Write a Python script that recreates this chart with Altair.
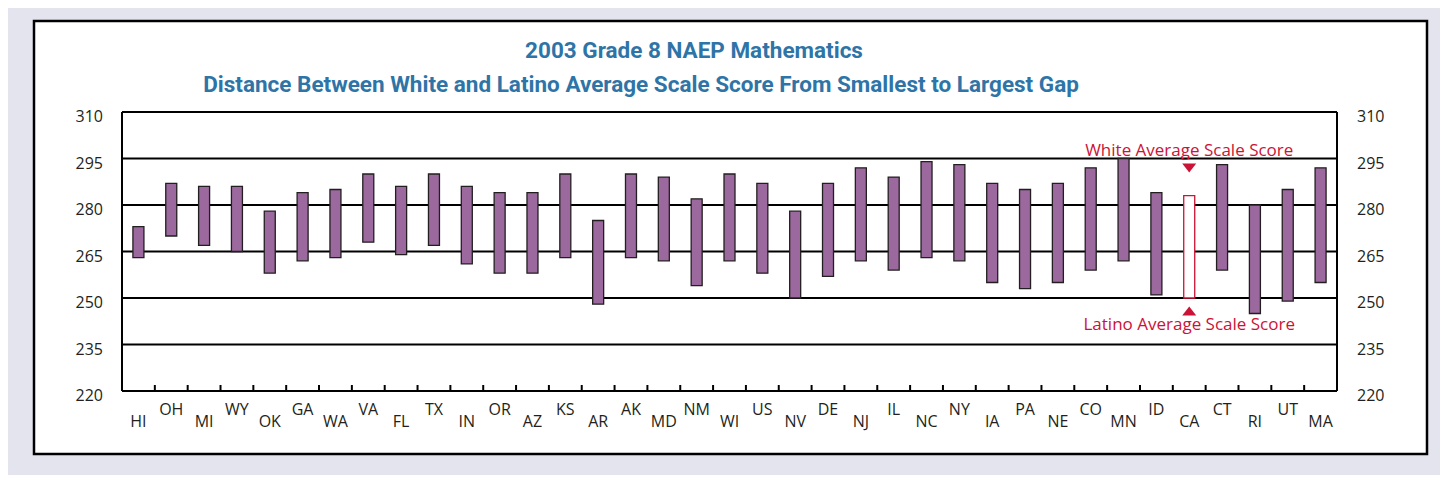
import altair as alt
import pandas as pd

# ---- data ----
states = ["HI", "OH", "MI", "WY", "OK", "GA", "WA", "VA", "FL", "TX", "IN", "OR", "AZ",
          "KS", "AR", "AK", "MD", "NM", "WI", "US", "NV", "DE", "NJ", "IL", "NC", "NY",
          "IA", "PA", "NE", "CO", "MN", "ID", "CA", "CT", "RI", "UT", "MA"]
white = [273, 287, 286, 286, 278, 284, 285, 290, 286, 290, 286, 284, 284,
         290, 275, 290, 289, 282, 290, 287, 278, 287, 292, 289, 294, 293,
         287, 285, 287, 292, 295, 284, 283, 293, 280, 285, 292]
latino = [263, 270, 267, 265, 258, 262, 263, 268, 264, 267, 261, 258, 258,
          263, 248, 263, 262, 254, 262, 258, 250, 257, 262, 259, 263, 262,
          255, 253, 255, 259, 262, 251, 250, 259, 245, 249, 255]
grid_values = [220, 235, 250, 265, 280, 295, 310]
highlight_state = "CA"

title_line1 = "2003 Grade 8 NAEP Mathematics"
title_line2 = "Distance Between White and Latino Average Scale Score From Smallest to Largest Gap"
white_note = "White Average Scale Score"
latino_note = "Latino Average Scale Score"

# ---- styling ----
W, H = 1215, 279
PURPLE = "#9b699e"
RED = "#cc1236"
BLUE = "#2e74a7"
INK = "#231f20"
FONT = "Open Sans"
TITLE_FONT = "Roboto"

df = pd.DataFrame({"state": states, "white": white, "latino": latino})
grid_df = pd.DataFrame({"v": grid_values})
one = alt.Data(values=[{"a": 1}])

xs = alt.Scale(domain=states, paddingInner=0, paddingOuter=0)
ys = alt.Scale(domain=[220, 310], nice=False, zero=False)

frame = alt.Chart(one).mark_rect(fill="white", stroke="black", strokeWidth=2.5).encode(
    x=alt.value(-88), x2=alt.value(1305), y=alt.value(-91), y2=alt.value(342))

grid = alt.Chart(grid_df).mark_rule(color="black", strokeWidth=2).encode(
    y=alt.Y("v:Q", scale=ys, axis=None),
    x=alt.value(0), x2=alt.value(W))

ylab_left = alt.Chart(grid_df).mark_text(align="right", baseline="alphabetic", dy=10,
                                         font=FONT, fontSize=16, color=INK).encode(
    y=alt.Y("v:Q", scale=ys, axis=None), x=alt.value(-19), text="v:Q")
ylab_right = alt.Chart(grid_df).mark_text(align="left", baseline="alphabetic", dy=10,
                                          font=FONT, fontSize=16, color=INK).encode(
    y=alt.Y("v:Q", scale=ys, axis=None), x=alt.value(W + 20), text="v:Q")

left_border = alt.Chart(one).mark_rule(color="black", strokeWidth=2).encode(
    x=alt.value(0), y=alt.value(0), y2=alt.value(H))
right_border = alt.Chart(one).mark_rule(color="black", strokeWidth=2).encode(
    x=alt.value(W), y=alt.value(0), y2=alt.value(H))

ticks = alt.Chart(df).transform_window(rn="row_number()").transform_filter(
    "datum.rn > 1").mark_rule(color="black", strokeWidth=2).encode(
    x=alt.X("state:N", scale=xs, axis=None, bandPosition=0),
    y=alt.value(H - 6), y2=alt.value(H))

is_hl = f"datum.state == '{highlight_state}'"
bars = alt.Chart(df).mark_bar(size=11, strokeWidth=1.3).encode(
    x=alt.X("state:N", scale=xs, axis=None),
    y=alt.Y("white:Q", scale=ys, axis=None),
    y2="latino:Q",
    fill=alt.condition(is_hl, alt.value("white"), alt.value(PURPLE)),
    stroke=alt.condition(is_hl, alt.value(RED), alt.value(INK)),
)

labels_low = alt.Chart(df).transform_window(rn="row_number()").transform_filter(
    "datum.rn % 2 == 1").mark_text(baseline="alphabetic", font=FONT, fontSize=16, color=INK).encode(
    x=alt.X("state:N", scale=xs, axis=None), y=alt.value(315), text="state:N")
labels_high = alt.Chart(df).transform_window(rn="row_number()").transform_filter(
    "datum.rn % 2 == 0").mark_text(baseline="alphabetic", font=FONT, fontSize=16, color=INK).encode(
    x=alt.X("state:N", scale=xs, axis=None), y=alt.value(303), text="state:N")

hl = alt.Chart(df).transform_filter(is_hl)
note_white = hl.mark_text(text=white_note, baseline="alphabetic", font=FONT, fontSize=17,
                          color=RED).encode(x=alt.X("state:N", scale=xs, axis=None), y=alt.value(44))
note_latino = hl.mark_text(text=latino_note, baseline="alphabetic", font=FONT, fontSize=17,
                           color=RED).encode(x=alt.X("state:N", scale=xs, axis=None), y=alt.value(218))
tri_down = hl.mark_point(shape="M-1,-0.64L1,-0.64L0,0.64Z", size=196, filled=True, opacity=1,
                         color=RED).encode(x=alt.X("state:N", scale=xs, axis=None), y=alt.value(56))
tri_up = hl.mark_point(shape="M-1,0.64L1,0.64L0,-0.64Z", size=196, filled=True, opacity=1,
                       color=RED).encode(x=alt.X("state:N", scale=xs, axis=None), y=alt.value(199))

t1 = alt.Chart(one).mark_text(text=title_line1, font=TITLE_FONT, fontWeight="bold", fontSize=22.5,
                              color=BLUE, baseline="alphabetic").encode(x=alt.value(572), y=alt.value(-54))
t2 = alt.Chart(one).mark_text(text=title_line2, font=TITLE_FONT, fontWeight="bold", fontSize=22.5,
                              color=BLUE, baseline="alphabetic").encode(x=alt.value(519), y=alt.value(-20))

chart = alt.layer(
    frame, grid, ylab_left, ylab_right, left_border, right_border, ticks, bars,
    labels_low, labels_high, note_white, note_latino, tri_down, tri_up, t1, t2
).properties(
    width=W, height=H,
    padding={"left": 114, "top": 104, "right": 103, "bottom": 84},
    autosize=alt.AutoSizeParams(type="none"),
    background="#e4e4ef",
).configure_view(stroke=None)

chart.save("out.html", embed_options={"renderer": "svg", "actions": False})
